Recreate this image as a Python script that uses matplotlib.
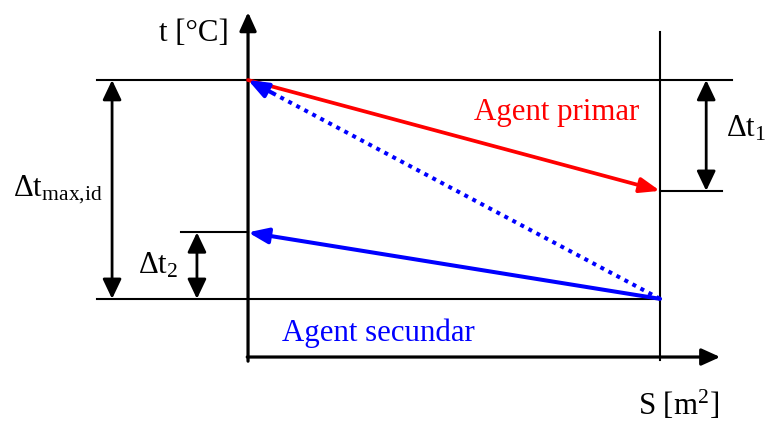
import matplotlib
matplotlib.use("Agg")
import matplotlib.pyplot as plt

plt.rcParams['font.family'] = ['Liberation Serif', 'DejaVu Serif']
plt.rcParams['mathtext.fontset'] = 'custom'
plt.rcParams['mathtext.rm'] = 'Liberation Serif'
plt.rcParams['mathtext.it'] = 'Liberation Serif:italic'

# Heat exchanger temperature profile (counter-flow), arbitrary units
S_end = 1.0                 # exchanger surface
t1_in, t1_out = 100, 60     # primary agent inlet / outlet
t2_in, t2_out = 21, 45      # secondary agent inlet / outlet

# Frame in data units
S_min, S_max = -0.602, 1.262
t_min, t_max = -23.1, 128.9
S_axis_end = 1.146
t_axis_end = 124.5

RED = '#ff0000'
BLUE = '#0000ff'
FS = 22.2

fig = plt.figure(figsize=(7.68, 4.21), dpi=100)
ax = fig.add_axes([0, 0, 1, 1])
ax.set_xlim(S_min, S_max)
ax.set_ylim(t_min, t_max)
ax.axis('off')

def arrow(x0, y0, x1, y1, color='k', lw=2.0, style='-|>', hl=0.8, hw=0.38, ms=15):
    ax.annotate('', xy=(x1, y1), xytext=(x0, y0),
                arrowprops=dict(arrowstyle=f'{style},head_length={hl},head_width={hw}',
                                color=color, lw=lw,
                                shrinkA=0, shrinkB=0, mutation_scale=ms))

# Axes with arrowheads
arrow(0, -1.5, 0, t_axis_end, lw=2.3, hl=0.75, hw=0.34)
arrow(-0.002, 0, S_axis_end, 0, lw=2.3, hl=0.75, hw=0.34)

# Guide lines
ax.plot([S_end, S_end], [-1, 117.5], color='k', lw=1.5)
ax.plot([-0.366, 1.175], [t1_in, t1_in], color='k', lw=1.5)
ax.plot([S_end, 1.15], [t1_out, t1_out], color='k', lw=1.5)
ax.plot([-0.163, 0], [t2_out, t2_out], color='k', lw=1.5)
ax.plot([-0.366, S_end], [t2_in, t2_in], color='k', lw=1.5)

# Temperature differences
arrow(-0.330, t2_in, -0.330, t1_in, style='<|-|>', lw=2.0)
arrow(-0.124, t2_in, -0.124, t2_out, style='<|-|>', lw=2.0)
arrow(1.112, t1_out, 1.112, t1_in, style='<|-|>', lw=2.0)

# Agent temperature profiles
arrow(0, t1_in, S_end, t1_out, color=RED, lw=2.7, hl=0.8, hw=0.3)
arrow(S_end, t2_in, 0, t2_out, color=BLUE, lw=2.9, hl=0.8, hw=0.31)

# Ideal (maximum) difference: dotted line with a solid head
f = 0.06
xs = S_end * f
ys = t1_in + (t2_in - t1_in) * f
ax.plot([S_end, xs], [t2_in, ys], color=BLUE, lw=2.9,
        linestyle=(0, (1, 1.25)), dash_capstyle='butt')
arrow(xs, ys, 0, t1_in, color=BLUE, lw=2.9, hl=0.8, hw=0.31)

# Labels
ax.text(-0.047, 114.0, 't [°C]', fontsize=FS, ha='right', va='baseline')
ax.text(0.548, 85.5, 'Agent primar', fontsize=FS, color=RED, ha='left', va='baseline')
ax.text(0.083, 5.8, 'Agent secundar', fontsize=FS, color=BLUE, ha='left', va='baseline')
ax.text(0.947, -21.0, r'S [m$^{2}$]', fontsize=FS, ha='left', va='baseline')
ax.text(1.160, 79.5, r'$\Delta\mathrm{t}_{1}$', fontsize=FS, ha='left', va='baseline')
ax.text(-0.267, 30.3, r'$\Delta\mathrm{t}_{2}$', fontsize=FS, ha='left', va='baseline')
ax.text(-0.571, 58.0, r'$\Delta\mathrm{t}_{\mathrm{max{,}id}}$', fontsize=FS, ha='left', va='baseline')

fig.savefig('out.png', dpi=100)
